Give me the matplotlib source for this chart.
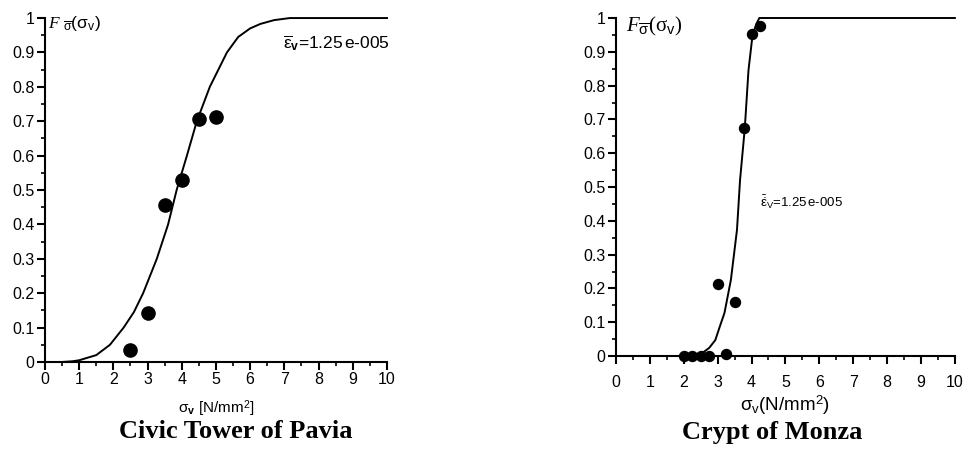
import matplotlib
matplotlib.use("Agg")
import matplotlib.pyplot as plt
from matplotlib.ticker import MultipleLocator, FuncFormatter

plt.rcParams['font.family'] = ['Liberation Sans', 'DejaVu Sans']
plt.rcParams['mathtext.fontset'] = 'custom'
plt.rcParams['mathtext.rm'] = 'Liberation Sans'
plt.rcParams['mathtext.it'] = 'Liberation Serif:italic'
plt.rcParams['mathtext.bf'] = 'Liberation Sans:bold'

# Civic Tower of Pavia
pavia_x = [2.5, 3.0, 3.5, 4.0, 4.5, 5.0]
pavia_y = [0.035, 0.143, 0.456, 0.529, 0.706, 0.713]
pavia_fit_x = [0.5, 0.8, 1.0, 1.5, 1.9, 2.3, 2.6, 2.87, 3.27, 3.6, 3.85,
               4.15, 4.44, 4.82, 5.32, 5.65, 6.0, 6.3, 6.7, 7.16, 10.0]
pavia_fit_y = [0.0, 0.002, 0.005, 0.02, 0.05, 0.1, 0.145, 0.2, 0.3, 0.4,
               0.5, 0.6, 0.7, 0.8, 0.9, 0.945, 0.97, 0.983, 0.994, 1.0, 1.0]

# Crypt of Monza
monza_x = [2.0, 2.25, 2.5, 2.75, 3.0, 3.25, 3.5, 3.78, 4.0, 4.25]
monza_y = [0.0, 0.0, 0.0, 0.0, 0.212, 0.005, 0.159, 0.675, 0.953, 0.975]
monza_fit_x = [2.0, 2.55, 2.75, 2.93, 3.1, 3.2, 3.39, 3.57, 3.66, 3.8,
               3.91, 4.03, 4.15, 4.23, 10.0]
monza_fit_y = [0.0, 0.009, 0.024, 0.047, 0.098, 0.127, 0.225, 0.373, 0.52,
               0.673, 0.846, 0.95, 0.984, 1.0, 1.0]

fig = plt.figure(figsize=(9.67, 4.49), dpi=100)
ax1 = fig.add_axes([0.0465, 0.1938, 0.3537, 0.766])
ax2 = fig.add_axes([0.637, 0.2071, 0.3505, 0.7528])


def style(ax, xpad):
    ax.set_xlim(0, 10)
    ax.set_ylim(0, 1)
    for s in ['top', 'right']:
        ax.spines[s].set_visible(False)
    for s in ['left', 'bottom']:
        ax.spines[s].set_linewidth(1.5)
    ax.xaxis.set_major_locator(MultipleLocator(1))
    ax.xaxis.set_minor_locator(MultipleLocator(0.5))
    ax.yaxis.set_major_locator(MultipleLocator(0.1))
    ax.yaxis.set_minor_locator(MultipleLocator(0.05))
    ax.yaxis.set_major_formatter(FuncFormatter(lambda v, p: '%g' % round(v, 2)))
    ax.tick_params(which='major', length=5.5, width=1.5, labelsize=11.5, pad=2)
    ax.tick_params(which='minor', length=3, width=1.2)
    ax.tick_params(axis='x', which='major', pad=xpad)


style(ax1, 1.5)
style(ax2, 8)

ax1.plot(pavia_fit_x, pavia_fit_y, color='black', lw=1.4, clip_on=False)
ax1.plot(pavia_x, pavia_y, 'o', color='black', ms=9.5, clip_on=False)
ax2.plot(monza_fit_x, monza_fit_y, color='black', lw=1.4, clip_on=False)
ax2.plot(monza_x, monza_y, 'o', color='black', ms=7.2, clip_on=False)

ax1.text(0.08, 0.985, r'$F\ _{\overline{\mathrm{\sigma}}}$(σ$_{\mathrm{v}}$)',
         fontsize=12.5, va='center', ha='left')
ax2.text(0.3, 0.975, r'$F_{\overline{\mathrm{\sigma}}}$(σ$_{\mathrm{v}}$)',
         fontsize=15, va='center', ha='left', family='Liberation Serif')

ax1.text(6.95, 0.928, r'$\overline{\mathrm{\varepsilon}}_{\mathbf{v}}$=1.25$\,$e-005',
         fontsize=12.5, va='center', ha='left')
ax2.text(4.25, 0.455, r'$\bar{\dot{\mathrm{\varepsilon}}}_{\mathrm{V}}$=1.25$\,$e-005',
         fontsize=9.5, va='center', ha='left')

ax1.set_xlabel(r'σ$_{\mathbf{v}}$ [N/mm$^2$]', fontsize=11, labelpad=8)
ax2.set_xlabel(r'σ$_{\mathrm{v}}$(N/mm$^2$)', fontsize=13.5, labelpad=3)

fig.text(0.244, 0.038, 'Civic Tower of Pavia', fontsize=19, fontweight='bold',
         family='Liberation Serif', ha='center', va='center')
fig.text(0.799, 0.036, 'Crypt of Monza', fontsize=19, fontweight='bold',
         family='Liberation Serif', ha='center', va='center')

fig.savefig('out.png', dpi=100)
